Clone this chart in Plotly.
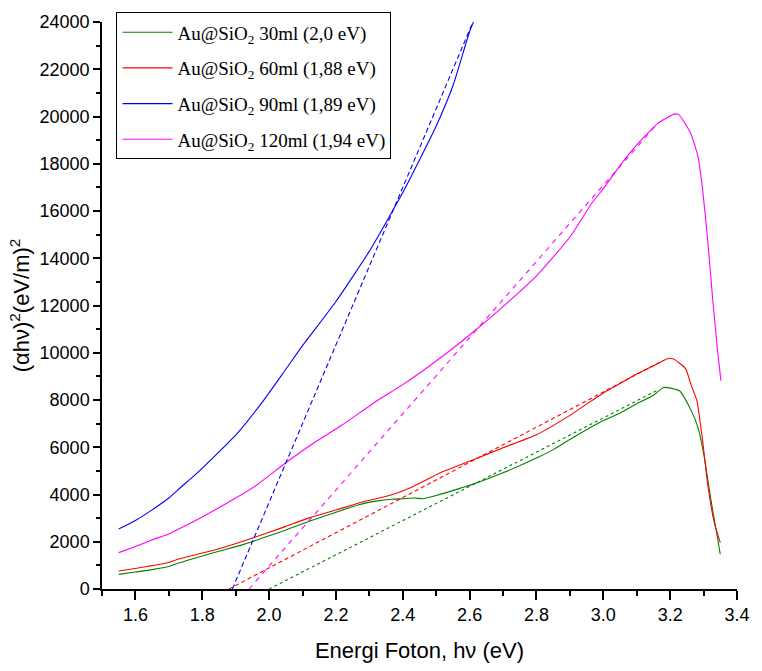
import plotly.graph_objects as go

# ---- data ----
green_x = [1.55, 1.6, 1.65, 1.7, 1.727, 1.8, 1.85, 1.924, 2.0, 2.05, 2.12, 2.2, 2.268, 2.32, 2.367, 2.40, 2.436, 2.46, 2.495, 2.53, 2.573, 2.613, 2.7, 2.8, 2.85, 2.9, 3.0, 3.05, 3.1, 3.15, 3.18, 3.228, 3.263, 3.283, 3.302, 3.322, 3.35]
green_y = [620, 720, 820, 950, 1090, 1400, 1600, 1890, 2250, 2500, 2870, 3250, 3570, 3720, 3800, 3820, 3850, 3820, 3940, 4080, 4270, 4450, 4920, 5540, 5900, 6330, 7130, 7450, 7840, 8200, 8530, 8390, 7550, 6850, 5590, 3770, 1470]

red_x = [1.55, 1.6, 1.65, 1.7, 1.727, 1.8, 1.85, 1.924, 2.0, 2.05, 2.12, 2.2, 2.268, 2.32, 2.367, 2.43, 2.514, 2.613, 2.7, 2.8, 2.9, 3.0, 3.05, 3.1, 3.15, 3.194, 3.21, 3.246, 3.262, 3.28, 3.297, 3.312, 3.332, 3.35]
red_y = [760, 870, 990, 1120, 1260, 1520, 1700, 2030, 2400, 2650, 3010, 3340, 3640, 3820, 3990, 4330, 4930, 5480, 5980, 6530, 7350, 8300, 8700, 9100, 9450, 9760, 9740, 9330, 8670, 7970, 6290, 4470, 2810, 1960]

blue_x = [1.55, 1.6, 1.65, 1.7, 1.727, 1.78, 1.825, 1.904, 1.983, 2.05, 2.1, 2.2, 2.3, 2.4, 2.5, 2.55, 2.6, 2.613]
blue_y = [2540, 2900, 3350, 3850, 4196, 4850, 5455, 6575, 7972, 9300, 10300, 12170, 14300, 16780, 19600, 21300, 23600, 24050]

mag_x = [1.55, 1.6, 1.65, 1.7, 1.727, 1.8, 1.9, 1.963, 2.0, 2.06, 2.138, 2.216, 2.323, 2.4, 2.5, 2.6, 2.7, 2.8, 2.9, 2.967, 3.0, 3.056, 3.1, 3.164, 3.21, 3.225, 3.261, 3.283, 3.297, 3.312, 3.327, 3.342, 3.352]
mag_y = [1540, 1800, 2080, 2330, 2520, 3050, 3850, 4400, 4800, 5450, 6220, 6920, 7970, 8650, 9650, 10750, 11950, 13250, 14900, 16360, 16950, 18040, 18800, 19720, 20090, 20090, 19300, 18320, 16920, 14820, 12310, 10070, 8810]

# linear fits (tangent lines): x-intercept and end point
green_fit_x = [2.0, 3.16]
green_fit_y = [0, 8400]
red_fit_x = [1.88, 3.18]
red_fit_y = [0, 9680]
blue_fit_x = [1.89, 2.61]
blue_fit_y = [0, 24000]
mag_fit_x = [1.94, 3.165]
mag_fit_y = [0, 19750]

names = ["Au@SiO<sub>2</sub> 30ml (2,0 eV)", "Au@SiO<sub>2</sub> 60ml (1,88 eV)",
         "Au@SiO<sub>2</sub> 90ml (1,89 eV)", "Au@SiO<sub>2</sub> 120ml (1,94 eV)"]
colors = ["#008000", "#FF0000", "#0000FF", "#FF00FF"]

fig = go.Figure()
curves = [(green_x, green_y), (red_x, red_y), (blue_x, blue_y), (mag_x, mag_y)]
for i, (cx, cy) in enumerate(curves):
    fig.add_trace(go.Scatter(x=cx, y=cy, mode="lines", name=names[i],
                             line=dict(color=colors[i], width=1.1, shape="spline", smoothing=0.5),
                             legendgroup=f"g{i}"))

fits = [(green_fit_x, green_fit_y, "3px,3px"), (red_fit_x, red_fit_y, "4px,3px"),
        (blue_fit_x, blue_fit_y, "5px,3px"), (mag_fit_x, mag_fit_y, "5px,5px")]
for i, (fx, fy, d) in enumerate(fits):
    fig.add_trace(go.Scatter(x=fx, y=fy, mode="lines", showlegend=False,
                             line=dict(color=colors[i], width=1.1, dash=d)))

axis_font = dict(family="Liberation Sans, Arial, sans-serif", size=18, color="black")

fig.update_layout(
    width=762, height=671,
    margin=dict(l=102, r=16, t=18, b=81),
    paper_bgcolor="white", plot_bgcolor="white",
    showlegend=True,
    legend=dict(x=0.0228, y=1.017, xanchor="left", yanchor="top",
                bgcolor="white", bordercolor="black", borderwidth=1,
                itemwidth=50,
                font=dict(family="Liberation Serif, Times New Roman, serif", size=19, color="black"),
                tracegroupgap=8),
    xaxis=dict(range=[1.5, 3.4], dtick=0.2, tick0=1.6, tickformat=".1f",
               showgrid=False, zeroline=False, showline=True, linecolor="black", linewidth=1.5,
               ticks="outside", ticklen=9, tickwidth=1.5, tickcolor="black",
               minor=dict(dtick=0.1, ticks="outside", ticklen=5, tickwidth=1.5, tickcolor="black"),
               tickfont=axis_font,
               title=dict(text="Energi Foton, hν (eV)", standoff=18,
                          font=dict(family="Liberation Sans, Arial, sans-serif", size=22, color="black"))),
    yaxis=dict(range=[0, 24000], dtick=2000, tickformat="d",
               showgrid=False, zeroline=False, showline=True, linecolor="black", linewidth=1.5,
               ticks="outside", ticklen=7, tickwidth=1.5, tickcolor="black",
               minor=dict(dtick=1000, ticks="outside", ticklen=4, tickwidth=1.5, tickcolor="black"),
               tickfont=axis_font,
               title=dict(text="(αhν)<sup>2</sup>(eV/m)<sup>2</sup>", standoff=4,
                          font=dict(family="Liberation Sans, Arial, sans-serif", size=22, color="black"))),
)

fig.write_html("out.html")
